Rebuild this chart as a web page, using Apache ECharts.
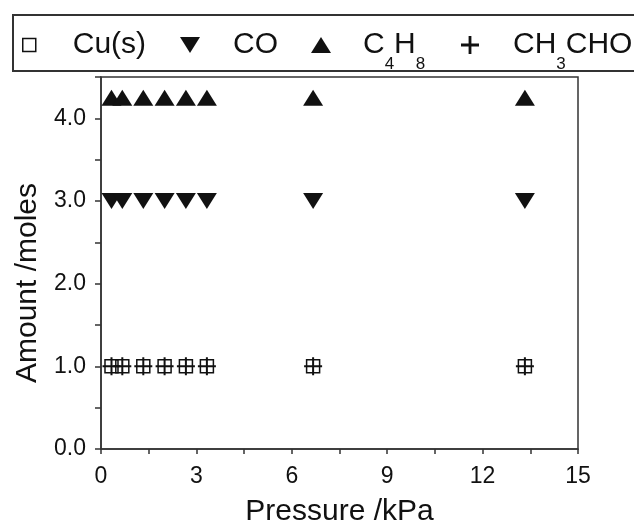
<!DOCTYPE html>
<html>
<head>
<meta charset="utf-8">
<script src="https://cdn.jsdelivr.net/npm/echarts@6/dist/echarts.min.js"></script>
<style>
  html, body { margin: 0; padding: 0; background: #fff; }
  #chart { width: 634px; height: 532px; }
</style>
</head>
<body>
<div id="chart"></div>
<script>
// Pressure (kPa) at which each equilibrium amount was computed
const pressure = [0.33, 0.67, 1.33, 2.0, 2.67, 3.33, 6.67, 13.33];
// Equilibrium amounts (moles)
const cuSolid = [1.0, 1.0, 1.0, 1.0, 1.0, 1.0, 1.0, 1.0];
const carbonMonoxide = [3.0, 3.0, 3.0, 3.0, 3.0, 3.0, 3.0, 3.0];
const butene = [4.25, 4.25, 4.25, 4.25, 4.25, 4.25, 4.25, 4.25];
const acetaldehyde = [1.0, 1.0, 1.0, 1.0, 1.0, 1.0, 1.0, 1.0];

const seriesNames = ['Cu(s)', 'CO', 'C4H8', 'CH3CHO'];
const xTicks = [0, 3, 6, 9, 12, 15];
const yTicks = [0, 1, 2, 3, 4];

const FONT = '"Liberation Sans", Arial, Helvetica, sans-serif';
const INK = '#111111';

const DOWN_TRI = 'path://M0,0L20,0L10,16Z';
const UP_TRI = 'path://M10,0L20,16L0,16Z';
const PLUS = 'path://M0,8h18v2h-18z M8,0h2v18h-2z';
const PLUS_BOLD = 'path://M0,7.6h18v2.8h-18z M7.6,0h2.8v18h-2.8z';

function pairs(ys) {
  return pressure.map((p, i) => [p, ys[i]]);
}

function legendLabel(name) {
  if (name === 'C4H8') return 'C{s|4}H{s|8}';
  if (name === 'CH3CHO') return 'CH{s|3}CHO';
  return name;
}

function makeLegend(name, icon, left, top, w, h, padLeft, itemStyle) {
  return {
    left: left,
    top: top,
    padding: 0,
    itemWidth: w,
    itemHeight: h,
    selectedMode: false,
    data: [{ name: name, icon: icon, itemStyle: itemStyle }],
    formatter: legendLabel,
    textStyle: {
      fontFamily: FONT,
      fontSize: 30,
      color: INK,
      padding: [0, 0, 0, padLeft],
      rich: {
        s: { fontFamily: FONT, fontSize: 17, color: INK, padding: [38, 0, 0, 0] }
      }
    }
  };
}

const chart = echarts.init(document.getElementById('chart'), null, { renderer: 'canvas' });

chart.setOption({
  backgroundColor: '#ffffff',
  animation: false,
  graphic: [{
    type: 'rect',
    shape: { x: 13, y: 15, width: 640, height: 56 },
    style: { fill: 'none', stroke: '#333', lineWidth: 2 },
    z: 10
  }],
  legend: [
    makeLegend(seriesNames[0], 'rect', 22, 30, 13, 13, 32,
      { color: '#fff', borderColor: INK, borderWidth: 1.5, opacity: 1 }),
    makeLegend(seriesNames[1], DOWN_TRI, 180, 30, 20, 16, 28, { color: INK, opacity: 1 }),
    makeLegend(seriesNames[2], UP_TRI, 311, 30, 20, 16, 27, { color: INK, opacity: 1 }),
    makeLegend(seriesNames[3], PLUS_BOLD, 461, 30, 18, 18, 29, { color: INK, opacity: 1 })
  ],
  grid: {
    left: 101, right: 56, top: 77, bottom: 82,
    show: true,
    borderColor: '#333',
    borderWidth: 1.5,
    backgroundColor: 'transparent'
  },
  xAxis: {
    type: 'value',
    min: 0, max: 15, interval: 1.5,
    name: 'Pressure /kPa',
    nameLocation: 'middle',
    nameGap: 48,
    nameTextStyle: { fontFamily: FONT, fontSize: 30, color: INK },
    axisLine: { show: true, lineStyle: { color: '#333', width: 1.5 } },
    axisTick: { show: true, inside: false, length: 5, lineStyle: { color: '#333', width: 1.5 } },
    splitLine: { show: false },
    axisLabel: {
      fontFamily: FONT, fontSize: 23, color: INK, margin: 16,
      formatter: v => (xTicks.indexOf(v) >= 0 ? String(v) : '')
    }
  },
  yAxis: {
    type: 'value',
    min: 0, max: 4.5, interval: 0.5,
    name: 'Amount /moles',
    nameLocation: 'middle',
    nameGap: 58,
    nameTextStyle: { fontFamily: FONT, fontSize: 30, color: INK, padding: [0, 40, 0, 0] },
    axisLine: { show: true, lineStyle: { color: '#333', width: 1.5 } },
    axisTick: { show: true, inside: false, length: 6, lineStyle: { color: '#333', width: 1.5 } },
    splitLine: { show: false },
    axisLabel: {
      fontFamily: FONT, fontSize: 23, color: INK, margin: 15,
      formatter: v => (yTicks.indexOf(v) >= 0 ? v.toFixed(1) : '')
    }
  },
  series: [
    {
      name: seriesNames[0], type: 'scatter', data: pairs(cuSolid),
      symbol: 'rect', symbolSize: 13,
      itemStyle: { color: 'rgba(255,255,255,0)', borderColor: INK, borderWidth: 1.5, opacity: 1 },
      z: 3
    },
    {
      name: seriesNames[1], type: 'scatter', data: pairs(carbonMonoxide),
      symbol: DOWN_TRI, symbolSize: [20, 16],
      itemStyle: { color: INK, opacity: 1 }
    },
    {
      name: seriesNames[2], type: 'scatter', data: pairs(butene),
      symbol: UP_TRI, symbolSize: [20, 16],
      itemStyle: { color: INK, opacity: 1 }
    },
    {
      name: seriesNames[3], type: 'scatter', data: pairs(acetaldehyde),
      symbol: PLUS, symbolSize: 18,
      itemStyle: { color: INK, opacity: 1 },
      z: 4
    }
  ]
});
</script>
</body>
</html>
